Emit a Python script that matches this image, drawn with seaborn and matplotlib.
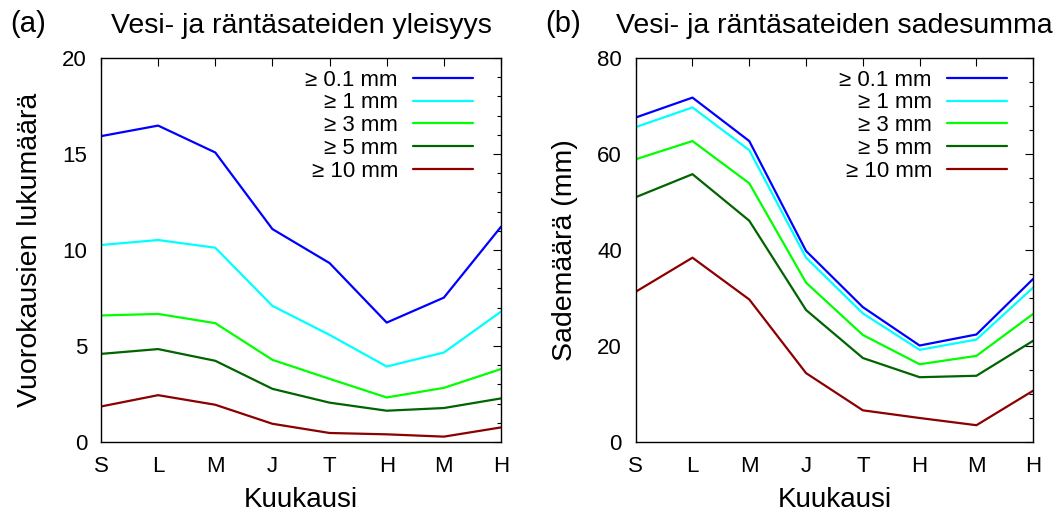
import numpy as np
import pandas as pd
import matplotlib
matplotlib.use("Agg")
import matplotlib.pyplot as plt
from matplotlib.ticker import MultipleLocator
import seaborn as sns

# Months (Sep .. Apr) and precipitation thresholds
months = ["S", "L", "M", "J", "T", "H", "M", "H"]
thresholds = ["≥ 0.1 mm", "≥ 1 mm", "≥ 3 mm", "≥ 5 mm", "≥ 10 mm"]
colors = ["#0000ff", "#00ffff", "#00ff00", "#006400", "#8b0000"]

# Number of days with rain/sleet above each threshold
days_01 = [15.93, 16.48, 15.08, 11.09, 9.32, 6.22, 7.52, 11.21]
days_1 = [10.26, 10.52, 10.12, 7.09, 5.58, 3.93, 4.66, 6.79]
days_3 = [6.59, 6.67, 6.19, 4.28, 3.29, 2.32, 2.82, 3.80]
days_5 = [4.59, 4.84, 4.23, 2.77, 2.05, 1.63, 1.77, 2.27]
days_10 = [1.85, 2.44, 1.94, 0.95, 0.47, 0.40, 0.28, 0.76]

# Precipitation sum (mm) from days above each threshold
sum_01 = [67.6, 71.75, 62.7, 39.8, 28.1, 20.1, 22.4, 34.0]
sum_1 = [65.6, 69.7, 60.8, 38.4, 26.8, 19.2, 21.35, 32.2]
sum_3 = [58.9, 62.7, 53.9, 33.2, 22.3, 16.2, 17.95, 26.7]
sum_5 = [51.0, 55.8, 46.1, 27.5, 17.5, 13.5, 13.8, 21.1]
sum_10 = [31.3, 38.4, 29.7, 14.35, 6.6, 5.0, 3.5, 10.7]


def long_frame(series):
    rows = []
    for label, vals in zip(thresholds, series):
        for i, v in enumerate(vals):
            rows.append({"month": i, "value": v, "threshold": label})
    return pd.DataFrame(rows)


df_days = long_frame([days_01, days_1, days_3, days_5, days_10])
df_sum = long_frame([sum_01, sum_1, sum_3, sum_5, sum_10])

sns.set_style("white")
plt.rcParams["font.family"] = ["Liberation Sans", "DejaVu Sans"]
plt.rcParams["axes.edgecolor"] = "black"
plt.rcParams["axes.linewidth"] = 1.0
plt.rcParams["text.color"] = "black"
plt.rcParams["axes.labelcolor"] = "black"
plt.rcParams["xtick.color"] = "black"
plt.rcParams["ytick.color"] = "black"

fig = plt.figure(figsize=(10.63, 5.12), dpi=100)
ax1 = fig.add_axes([0.095, 0.1367, 0.3763, 0.75])
ax2 = fig.add_axes([0.598, 0.1367, 0.374, 0.75])

palette = dict(zip(thresholds, colors))

panels = [
    (ax1, df_days, "Vesi- ja räntäsateiden yleisyys", "Vuorokausien lukumäärä",
     20, 5, 1, "(a)", 10, 0.93),
    (ax2, df_sum, "Vesi- ja räntäsateiden sadesumma", "Sademäärä (mm)",
     80, 20, 5, "(b)", 545, 0.934),
]

for ax, df, title, ylabel, ymax, major, minor, tag, tag_x, leg_x in panels:
    sns.lineplot(data=df, x="month", y="value", hue="threshold",
                 hue_order=thresholds, palette=palette, linewidth=1.6,
                 ax=ax, legend=True)
    ax.set_xlim(0, 7)
    ax.set_ylim(0, ymax)
    ax.set_xticks(range(len(months)))
    ax.set_xticklabels(months)
    ax.yaxis.set_major_locator(MultipleLocator(major))
    ax.yaxis.set_minor_locator(MultipleLocator(minor))
    ax.tick_params(axis="both", which="both", direction="in",
                   top=True, right=True, colors="black", labelsize=16)
    ax.tick_params(axis="both", which="major", length=6, width=0.8, pad=10)
    ax.tick_params(axis="y", which="minor", length=3, width=0.8)
    ax.set_xlabel("Kuukausi", fontsize=20, labelpad=7)
    ax.set_ylabel(ylabel, fontsize=20.5, labelpad=14)
    ax.set_title(title, fontsize=20.5, pad=18)
    for s in ax.spines.values():
        s.set_visible(True)
        s.set_color("black")

    handles, labels = ax.get_legend_handles_labels()
    ax.legend(handles, labels, loc="upper right", bbox_to_anchor=(leg_x, 0.97),
              frameon=False, markerfirst=False, fontsize=16,
              handlelength=2.7, handletextpad=0.68, labelspacing=0.08,
              borderpad=0, borderaxespad=0)

    fig.text(tag_x / 1063, 1 - 32 / 512, tag, fontsize=21, va="baseline")

fig.savefig("out.png", dpi=100)
